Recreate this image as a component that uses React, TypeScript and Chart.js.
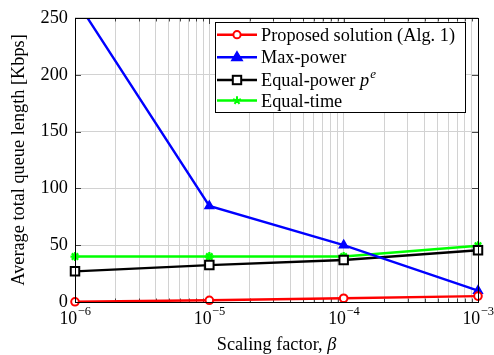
import React, { useEffect, useRef } from 'react';
import { Chart, registerables } from 'chart.js';

Chart.register(...registerables);

// ---- data ----
const betaValues = [1e-6, 1e-5, 1e-4, 1e-3];
const proposed = [0.2, 1.5, 3.3, 5.2];
const maxPower = [267, 84.5, 50, 10];
const equalPower = [27, 32.5, 37, 45.5];
const equalTime = [40, 40, 40, 49.5];
const yTickStep = 50;
const yMin = 0;
const yMax = 250;
const xDecades = [-6, -5, -4, -3];
const minorMultipliers = [1, 2, 3, 4, 5, 6, 7, 8, 9];
const seriesLabels = ['Proposed solution (Alg. 1)', 'Max-power', 'Equal-power ', 'Equal-time'];
const seriesColors = ['#ff0000', '#0000ff', '#000000', '#00ff00'];
const xTitle = 'Scaling factor, ';
const xTitleSymbol = 'β';
const yTitle = 'Average total queue length [Kbps]';

const FONT = '"Liberation Serif", "Times New Roman", serif';
const FS = 18.3;

type Pt = { x: number; y: number };
const toPts = (vals: number[]): Pt[] => betaValues.map((b, i) => ({ x: b, y: vals[i] }));

function drawMarker(ctx: CanvasRenderingContext2D, kind: string, x: number, y: number, color: string) {
  ctx.save();
  ctx.strokeStyle = color;
  ctx.fillStyle = color;
  ctx.lineWidth = 2;
  if (kind === 'circle') {
    ctx.beginPath();
    ctx.arc(x, y, 3.6, 0, Math.PI * 2);
    ctx.fillStyle = '#fff';
    ctx.fill();
    ctx.stroke();
  } else if (kind === 'triangle') {
    const r = 5.5;
    ctx.lineWidth = 1.5;
    ctx.beginPath();
    ctx.moveTo(x, y - r);
    ctx.lineTo(x + r * 0.95, y + r * 0.6);
    ctx.lineTo(x - r * 0.95, y + r * 0.6);
    ctx.closePath();
    ctx.fill();
    ctx.stroke();
  } else if (kind === 'rect') {
    const s = 4.2;
    ctx.fillStyle = '#fff';
    ctx.fillRect(x - s, y - s, 2 * s, 2 * s);
    ctx.strokeRect(x - s, y - s, 2 * s, 2 * s);
  } else if (kind === 'star') {
    const r = 4.2;
    ctx.beginPath();
    for (let k = 0; k < 5; k++) {
      const ang = -Math.PI / 2 + (k * 2 * Math.PI) / 5;
      ctx.moveTo(x, y);
      ctx.lineTo(x + r * Math.cos(ang), y + r * Math.sin(ang));
    }
    ctx.stroke();
  }
  ctx.restore();
}

const decoPlugin = {
  id: 'deco',
  beforeDatasetsDraw(chart: any) {
    const { ctx, chartArea: a, scales } = chart;
    const xs = scales.x;
    const ys = scales.y;
    ctx.save();
    ctx.strokeStyle = 'rgba(0,0,0,0.7)';
    ctx.lineWidth = 1;
    ctx.beginPath();
    xs.ticks.forEach((t: any) => {
      const px = Math.round(xs.getPixelForValue(t.value)) + 0.5;
      const len = t.major ? 6 : 3.5;
      ctx.moveTo(px, a.top);
      ctx.lineTo(px, a.top + len);
      ctx.moveTo(px, a.bottom);
      ctx.lineTo(px, a.bottom - len);
    });
    ys.ticks.forEach((t: any) => {
      const py = Math.round(ys.getPixelForValue(t.value)) + 0.5;
      ctx.moveTo(a.left, py);
      ctx.lineTo(a.left + 6, py);
      ctx.moveTo(a.right, py);
      ctx.lineTo(a.right - 6, py);
    });
    ctx.stroke();
    ctx.restore();
  },
  afterDatasetsDraw(chart: any) {
    const { ctx, chartArea: a, scales } = chart;
    const xs = scales.x;
    ctx.save();
    // frame
    ctx.strokeStyle = '#000';
    ctx.lineWidth = 1;
    ctx.strokeRect(Math.round(a.left) + 0.5, Math.round(a.top) + 0.5, Math.round(a.right - a.left), Math.round(a.bottom - a.top));

    // x tick labels 10^e
    ctx.fillStyle = '#000';
    ctx.textBaseline = 'alphabetic';
    xDecades.forEach((e) => {
      const px = xs.getPixelForValue(Math.pow(10, e));
      ctx.font = `17.8px ${FONT}`;
      const base = '10';
      const wb = ctx.measureText(base).width;
      ctx.font = `12.5px ${FONT}`;
      const sup = '−' + String(Math.abs(e));
      const ws = ctx.measureText(sup).width;
      const start = px - (wb + ws) / 2;
      ctx.font = `17.8px ${FONT}`;
      ctx.textAlign = 'left';
      ctx.fillText(base, start, 323.5);
      ctx.font = `12.5px ${FONT}`;
      ctx.fillText(sup, start + wb + 0.5, 315);
    });

    // x title
    ctx.font = `${FS}px ${FONT}`;
    const w1 = ctx.measureText(xTitle).width;
    ctx.font = `italic ${FS}px ${FONT}`;
    const w2 = ctx.measureText(xTitleSymbol).width;
    const cx = (a.left + a.right) / 2;
    const sx = cx - (w1 + w2) / 2;
    ctx.textAlign = 'left';
    ctx.font = `${FS}px ${FONT}`;
    ctx.fillText(xTitle, sx, 350);
    ctx.font = `italic ${FS}px ${FONT}`;
    ctx.fillText(xTitleSymbol, sx + w1, 350);

    // y title
    ctx.save();
    ctx.translate(24, (a.top + a.bottom) / 2);
    ctx.rotate(-Math.PI / 2);
    ctx.textAlign = 'center';
    ctx.font = `${FS}px ${FONT}`;
    ctx.fillText(yTitle, 0, 0);
    ctx.restore();

    // legend
    const lx = 215.5, ly = 22.5, lw = 250, lh = 90;
    ctx.fillStyle = '#fff';
    ctx.fillRect(lx, ly, lw, lh);
    ctx.strokeStyle = '#000';
    ctx.lineWidth = 1;
    ctx.strokeRect(lx, ly, lw, lh);
    const rows = [34.7, 57.3, 80, 100.5];
    const kinds = ['circle', 'triangle', 'rect', 'star'];
    rows.forEach((ry, i) => {
      ctx.strokeStyle = seriesColors[i];
      ctx.lineWidth = 2.4;
      ctx.beginPath();
      ctx.moveTo(217, ry);
      ctx.lineTo(257, ry);
      ctx.stroke();
      drawMarker(ctx, kinds[i], 237, ry, seriesColors[i]);
      ctx.fillStyle = '#000';
      ctx.textAlign = 'left';
      ctx.font = `${FS}px ${FONT}`;
      ctx.fillText(seriesLabels[i], 261, ry + 6);
      if (i === 2) {
        const w = ctx.measureText(seriesLabels[i]).width;
        ctx.font = `italic ${FS}px ${FONT}`;
        ctx.fillText('p', 261 + w, ry + 6);
        const wp = ctx.measureText('p').width;
        ctx.font = `italic 13px ${FONT}`;
        ctx.fillText('e', 261 + w + wp + 1, ry - 2);
      }
    });
    ctx.restore();
  },
};

export default function App() {
  const ref = useRef<HTMLCanvasElement>(null);
  useEffect(() => {
    if (!ref.current) return;
    const xTickValues: { value: number; major: boolean }[] = [];
    xDecades.forEach((e, i) => {
      if (i === xDecades.length - 1) {
        xTickValues.push({ value: Math.pow(10, e), major: true });
      } else {
        minorMultipliers.forEach((m) => xTickValues.push({ value: m * Math.pow(10, e), major: m === 1 }));
      }
    });
    const common = { borderWidth: 2.4, pointBorderWidth: 2, clip: { left: 12, right: 12, top: 0, bottom: 12 } as any };
    const chart = new Chart(ref.current, {
      type: 'line',
      data: {
        datasets: [
          {
            ...common,
            label: seriesLabels[0],
            data: toPts(proposed),
            borderColor: seriesColors[0],
            backgroundColor: '#ffffff',
            pointStyle: 'circle',
            pointRadius: 3.8,
          },
          {
            ...common,
            label: seriesLabels[1],
            data: toPts(maxPower),
            borderColor: seriesColors[1],
            backgroundColor: seriesColors[1],
            pointStyle: 'triangle',
            pointRadius: 5,
            pointBorderWidth: 1.5,
          },
          {
            ...common,
            label: seriesLabels[2],
            data: toPts(equalPower),
            borderColor: seriesColors[2],
            backgroundColor: '#ffffff',
            pointStyle: 'rect',
            pointRadius: 6,
          },
          {
            ...common,
            label: seriesLabels[3],
            data: toPts(equalTime),
            borderColor: seriesColors[3],
            backgroundColor: seriesColors[3],
            pointStyle: 'star',
            pointRadius: 4.5,
            pointBorderWidth: 2.2,
          },
        ] as any,
      },
      options: {
        animation: false,
        responsive: false,
        devicePixelRatio: 1,
        layout: { padding: { left: 0, top: 15, right: 16, bottom: 0 } },
        plugins: { legend: { display: false }, tooltip: { enabled: false } },
        scales: {
          x: {
            type: 'logarithmic',
            min: 1e-6,
            max: 1e-3,
            afterBuildTicks: (s: any) => {
              s.ticks = xTickValues.map((t) => ({ ...t }));
            },
            afterFit: (s: any) => {
              s.height = 53;
            },
            ticks: { display: false, autoSkip: false },
            grid: { color: '#d2d2d2', drawTicks: false, lineWidth: 1 },
            border: { display: false },
          },
          y: {
            min: yMin,
            max: yMax,
            afterFit: (s: any) => {
              s.width = 75;
            },
            ticks: { stepSize: yTickStep, color: '#000', padding: 7, font: { family: FONT, size: FS } },
            grid: { color: '#d2d2d2', drawTicks: false, lineWidth: 1 },
            border: { display: false },
          },
        },
      } as any,
      plugins: [decoPlugin],
    });
    return () => chart.destroy();
  }, []);
  return (
    <div style={{ position: 'absolute', left: 0, top: 0, width: 494, height: 355, background: '#fff' }}>
      <canvas ref={ref} width={494} height={355} style={{ display: 'block', width: 494, height: 355 }} />
    </div>
  );
}
